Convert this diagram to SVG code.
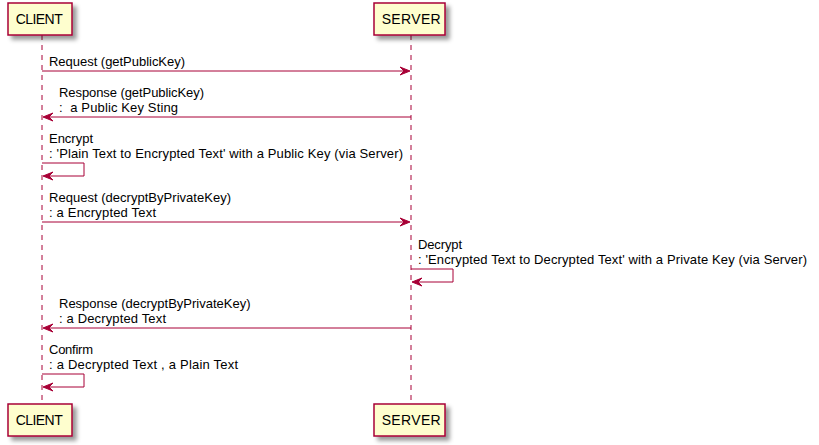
<svg xmlns="http://www.w3.org/2000/svg" width="819" height="445" viewBox="0 0 819 445">
<defs>
<filter id="sh" x="-1" y="-1" width="300%" height="300%">
<feGaussianBlur result="blurOut" stdDeviation="2"/>
<feColorMatrix type="matrix" in="blurOut" result="blurOut2" values="0 0 0 0 0 0 0 0 0 0 0 0 0 0 0 0 0 0 .4 0"/>
<feOffset result="blurOut3" in="blurOut2" dx="4" dy="4"/>
<feBlend in="SourceGraphic" in2="blurOut3" mode="normal"/>
</filter>
</defs>
<style>
.life{stroke:#A80036;stroke-width:1;stroke-dasharray:5,5;fill:none}
.box{fill:#FEFECE;stroke:#A80036;stroke-width:1.5}
.pt{font-family:"Liberation Sans",Arial,sans-serif;font-size:14px;fill:#000}
.msg{stroke:#A80036;stroke-width:1;fill:none}
.head{fill:#A80036;stroke:#A80036;stroke-width:1}
.t{font-family:"Liberation Sans",Arial,sans-serif;font-size:13px;fill:#000;white-space:pre}
</style>
<rect width="819" height="445" fill="#FFFFFF"/>
<g id="lifelines">
<line class="life" x1="42" y1="35" x2="42" y2="404"/>
<line class="life" x1="411" y1="35" x2="411" y2="404"/>
</g>
<g id="client-top">
<rect class="box" filter="url(#sh)" x="8" y="3" width="64" height="32"/>
<text class="pt" x="15.7" y="24" textLength="47" lengthAdjust="spacing">CLIENT</text>
</g>
<g id="server-top">
<rect class="box" filter="url(#sh)" x="374" y="3" width="71" height="32"/>
<text class="pt" x="381.7" y="24" textLength="59" lengthAdjust="spacing">SERVER</text>
</g>
<g id="client-bottom">
<rect class="box" filter="url(#sh)" x="8" y="404" width="64" height="32"/>
<text class="pt" x="15.7" y="425" textLength="47" lengthAdjust="spacing">CLIENT</text>
</g>
<g id="server-bottom">
<rect class="box" filter="url(#sh)" x="374" y="404" width="71" height="32"/>
<text class="pt" x="381.7" y="425" textLength="59" lengthAdjust="spacing">SERVER</text>
</g>
<g id="connectors">
<line class="msg" x1="42" y1="71" x2="406" y2="71"/>
<polygon class="head" points="400,67,410,71,400,75,404,71"/>
<line class="msg" x1="47" y1="117" x2="411" y2="117"/>
<polygon class="head" points="53,113,43,117,53,121,49,117"/>
<polyline class="msg" points="42,163 84,163 84,176 47,176"/>
<polygon class="head" points="53,172,43,176,53,180,49,176"/>
<line class="msg" x1="42" y1="222" x2="406" y2="222"/>
<polygon class="head" points="400,218,410,222,400,226,404,222"/>
<polyline class="msg" points="411,269 453,269 453,282 416,282"/>
<polygon class="head" points="422,278,412,282,422,286,418,282"/>
<line class="msg" x1="47" y1="328" x2="411" y2="328"/>
<polygon class="head" points="53,324,43,328,53,332,49,328"/>
<polyline class="msg" points="42,374 84,374 84,387 47,387"/>
<polygon class="head" points="53,383,43,387,53,391,49,387"/>
</g>
<g id="labels">
<text class="t" x="49" y="66" textLength="136" lengthAdjust="spacing">Request (getPublicKey)</text>
<text class="t" x="59" y="96.9" textLength="145" lengthAdjust="spacing">Response (getPublicKey)</text>
<text class="t" x="59" y="112" textLength="119" lengthAdjust="spacing" xml:space="preserve">:  a Public Key Sting</text>
<text class="t" x="49" y="142.9" textLength="44" lengthAdjust="spacing">Encrypt</text>
<text class="t" x="49" y="158" textLength="354" lengthAdjust="spacing">: 'Plain Text to Encrypted Text' with a Public Key (via Server)</text>
<text class="t" x="49" y="201.9" textLength="182" lengthAdjust="spacing">Request (decryptByPrivateKey)</text>
<text class="t" x="49" y="217" textLength="107" lengthAdjust="spacing">: a Encrypted Text</text>
<text class="t" x="418" y="248.9" textLength="44" lengthAdjust="spacing">Decrypt</text>
<text class="t" x="418" y="264" textLength="389" lengthAdjust="spacing">: 'Encrypted Text to Decrypted Text' with a Private Key (via Server)</text>
<text class="t" x="59" y="307.9" textLength="191.5" lengthAdjust="spacing">Response (decryptByPrivateKey)</text>
<text class="t" x="59" y="323" textLength="107" lengthAdjust="spacing">: a Decrypted Text</text>
<text class="t" x="49" y="353.9" textLength="44" lengthAdjust="spacing">Confirm</text>
<text class="t" x="49" y="369" textLength="189" lengthAdjust="spacing">: a Decrypted Text , a Plain Text</text>
</g>
</svg>
